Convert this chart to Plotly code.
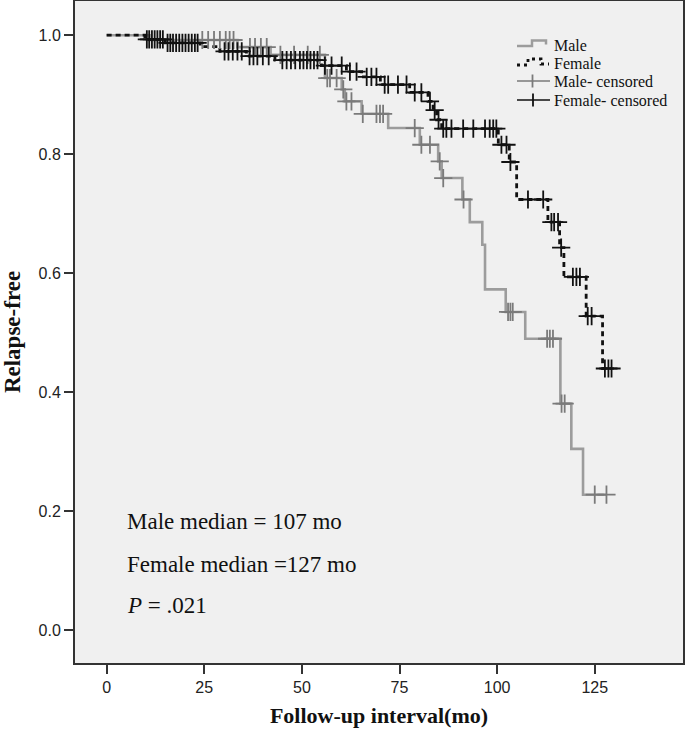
import plotly.graph_objects as go

# ---- data ----
female_event_times = [0, 9.8, 15.0, 24.0, 29.0, 35.8, 43.1, 55.0, 61.4, 65.3, 70.1, 77.6, 82.3, 83.6,
                      84.5, 85.8, 100.3, 103.1, 105.0, 113.0, 116.0, 117.1, 122.8, 127.0]
female_surv = [1.0, 0.993, 0.987, 0.981, 0.973, 0.965, 0.958, 0.949, 0.939, 0.930, 0.917, 0.904, 0.889,
               0.874, 0.858, 0.843, 0.816, 0.787, 0.724, 0.686, 0.643, 0.594, 0.528, 0.440]
female_end = 129.3
female_censor = [10.3, 10.9, 11.6, 12.3, 13.0, 13.7, 14.4, 15.6, 16.3, 17.0, 17.8, 18.6, 19.4, 20.2,
                 21.0, 21.8, 22.6, 23.3, 30.2, 31.2, 32.3, 33.5, 34.6, 36.6, 37.6, 38.6, 40.0, 41.5,
                 45.0, 46.1, 47.2, 48.3, 49.5, 50.4, 51.3, 52.2, 53.1, 54.0, 55.9, 57.6, 60.2, 62.3,
                 64.0, 66.6, 67.8, 69.1, 71.2, 72.1, 74.6, 76.8, 78.9, 80.6, 82.8, 84.0, 85.0, 86.2,
                 87.0, 88.3, 91.3, 93.9, 96.9, 98.1, 99.0, 99.8, 101.1, 102.4, 103.4, 107.9, 111.8,
                 113.9, 114.6, 115.6, 116.4, 119.4, 120.3, 121.2, 123.2, 124.2, 127.6, 128.5, 129.3]

male_event_times = [0, 11.0, 33.5, 42.0, 55.9, 60.2, 61.0, 65.3, 72.1, 80.2, 84.9, 85.8, 91.1, 93.0,
                    96.2, 96.9, 102.2, 107.2, 116.2, 119.0, 122.0]
male_surv = [1.0, 0.992, 0.980, 0.967, 0.928, 0.909, 0.889, 0.868, 0.844, 0.816, 0.788, 0.760, 0.724,
             0.686, 0.648, 0.573, 0.535, 0.490, 0.381, 0.305, 0.228]
male_end = 128.0
male_censor = [24.5, 26.0, 27.5, 29.0, 30.5, 31.5, 32.5, 36.7, 38.0, 39.5, 41.0, 44.5, 48.0, 51.5,
               54.6, 56.5, 57.2, 58.9, 60.6, 61.4, 62.7, 65.6, 69.1, 70.0, 70.8, 78.9, 80.6, 82.8,
               85.3, 86.2, 91.4, 102.8, 103.4, 104.0, 112.8, 113.5, 114.3, 116.5, 117.3, 125.0, 128.0]

x_ticks = [0, 25, 50, 75, 100, 125]
y_ticks = [0.0, 0.2, 0.4, 0.6, 0.8, 1.0]

legend_labels = ["Male", "Female", "Male- censored", "Female- censored"]

annotation_lines = ["Male median = 107 mo", "Female median =127 mo", "<i>P</i> = .021"]
annotation_y = [0.183, 0.110, 0.041]


def step_value(times, surv, t):
    val = surv[0]
    for tt, s in zip(times, surv):
        if tt <= t:
            val = s
    return val


W, H = 685, 733
ML, MR, MT, MB = 75, 2, 1, 70
PW, PH = W - ML - MR, H - MT - MB


def px(xp):
    return (xp - ML) / PW


def py(yp):
    return (H - MB - yp) / PH


MALE_LINE = "#9c9c9c"
MALE_MARK = "#7a7a7a"
FEM = "#111111"

fig = go.Figure()

fig.add_trace(go.Scatter(
    x=male_event_times + [male_end], y=male_surv + [male_surv[-1]],
    mode="lines", line=dict(color=MALE_LINE, width=2.6, shape="hv"), name="Male"))
fig.add_trace(go.Scatter(
    x=female_event_times + [female_end], y=female_surv + [female_surv[-1]],
    mode="lines", line=dict(color=FEM, width=2.8, shape="hv", dash="5px,4px"), name="Female"))

fig.add_trace(go.Scatter(
    x=male_censor, y=[step_value(male_event_times, male_surv, t) for t in male_censor],
    mode="markers", marker=dict(symbol="cross-thin", size=13, line=dict(color=MALE_MARK, width=1.8)),
    name="Male- censored"))
fig.add_trace(go.Scatter(
    x=female_censor, y=[step_value(female_event_times, female_surv, t) for t in female_censor],
    mode="markers", marker=dict(symbol="cross-thin", size=13, line=dict(color=FEM, width=1.8)),
    name="Female- censored"))

# ---- legend (drawn like the reference's SPSS legend) ----
def path(points):
    s = "M " + " L ".join(f"{px(a):.5f},{py(b):.5f}" for a, b in points)
    return s


shapes = [
    dict(type="path", xref="paper", yref="paper",
         path=path([(517, 46), (532, 46), (532, 40.5), (546, 40.5), (546, 44.5)]),
         line=dict(color=MALE_LINE, width=2.5)),
    dict(type="path", xref="paper", yref="paper",
         path=path([(517, 65), (528, 65), (528, 59), (541, 59), (541, 64), (549, 64)]),
         line=dict(color=FEM, width=2.8, dash="3px,4px")),
    dict(type="line", xref="paper", yref="paper", x0=px(517), x1=px(550), y0=py(81), y1=py(81),
         line=dict(color=MALE_MARK, width=1.6)),
    dict(type="line", xref="paper", yref="paper", x0=px(532.5), x1=px(532.5), y0=py(74.5), y1=py(87.5),
         line=dict(color=MALE_MARK, width=1.8)),
    dict(type="line", xref="paper", yref="paper", x0=px(517), x1=px(550), y0=py(100), y1=py(100),
         line=dict(color=FEM, width=1.6)),
    dict(type="line", xref="paper", yref="paper", x0=px(533), x1=px(533), y0=py(93.5), y1=py(106.5),
         line=dict(color=FEM, width=1.8)),
]
for lbl, yp in zip(legend_labels, [45, 63.5, 81, 100]):
    fig.add_annotation(x=px(552), y=py(yp), xref="paper", yref="paper", text=lbl, showarrow=False,
                       xanchor="left", yanchor="middle",
                       font=dict(family="Liberation Serif", size=16, color="#111111"))

for txt, yy in zip(annotation_lines, annotation_y):
    fig.add_annotation(x=4.7, y=yy, xref="x", yref="y", text=txt, showarrow=False,
                       xanchor="left", yanchor="middle",
                       font=dict(family="Liberation Serif", size=23, color="#111111"))

axis_common = dict(
    showline=True, linecolor="#333333", linewidth=2, mirror=True,
    ticks="outside", ticklen=9, tickwidth=2, tickcolor="#333333",
    showgrid=False, zeroline=False,
    tickfont=dict(family="Liberation Sans", size=16, color="#222222"),
)

fig.update_xaxes(range=[-8.1, 147.6], tickvals=x_ticks, ticktext=[str(v) for v in x_ticks],
                 title=dict(text="<b>Follow-up interval(mo)</b>", standoff=12,
                            font=dict(family="Liberation Serif", size=22, color="#111111")),
                 **axis_common)
fig.update_yaxes(range=[-0.0548, 1.0575], tickvals=y_ticks, ticktext=[f"{v:.1f}" for v in y_ticks],
                 title=dict(text="<b>Relapse-free</b>", standoff=12,
                            font=dict(family="Liberation Serif", size=23, color="#111111")),
                 **axis_common)

fig.update_layout(
    width=W, height=H,
    margin=dict(l=ML, r=MR, t=MT, b=MB, autoexpand=False),
    paper_bgcolor="white", plot_bgcolor="#f0f0f0",
    showlegend=False,
    shapes=shapes,
)

fig.write_html("out.html", config={"displayModeBar": False},
               post_script="document.body.style.margin='0';")
